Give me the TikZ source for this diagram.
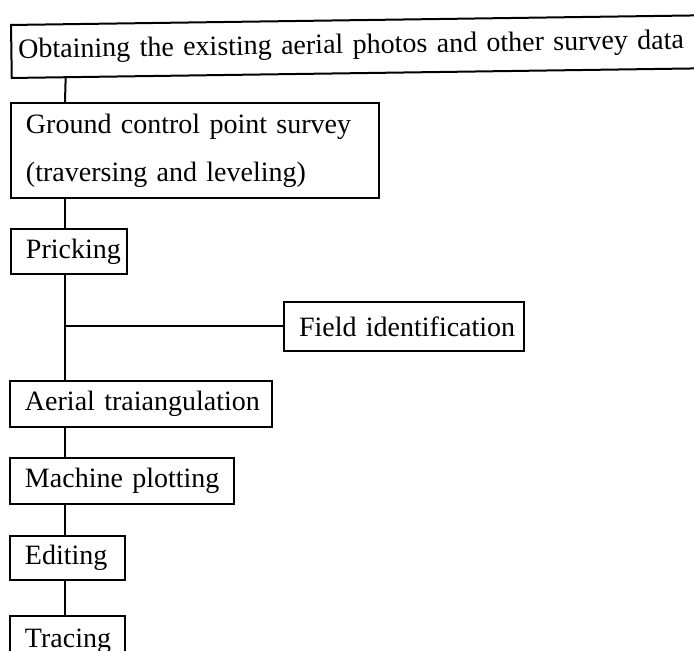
\documentclass[tikz,border=0pt]{standalone}
\usepackage{fontspec}
\setmainfont{Liberation Serif}
\usepackage{tikz}
\usetikzlibrary{calc}

\tikzset{
  indent/.style={execute at begin node={\raggedright\leftskip=#1\relax}},
  stepbox/.style={draw, line width=1pt, anchor=north west,
    inner xsep=2pt, inner ysep=0pt, indent=5.5pt,
    font=\fontsize{14pt}{24pt}\selectfont},
  link/.style={line width=1pt}
}

\begin{document}
\begin{tikzpicture}[x=0.5pt,y=-0.5pt]
    \useasboundingbox (0,0) rectangle (694,651);
    %
    \node[stepbox, rotate=0.8, indent=1.5pt, text width=356pt,
      minimum height=26.5pt] (obtain) at (10,24)
      {Obtaining the existing aerial photos and other survey data};
    \node[stepbox, text width=180pt, minimum height=47.5pt] (ground) at (10,102)
      {Ground control point survey\\(traversing and leveling)};
    \node[stepbox, text width=54pt, minimum height=22.5pt] (pricking) at (10,228)
      {Pricking};
    \node[stepbox, text width=116pt, minimum height=24.5pt] (field) at (283,301)
      {Field identification};
    \node[stepbox, text width=127pt, minimum height=23pt] (aerial) at (9,380)
      {Aerial traiangulation};
    \node[stepbox, text width=108pt, minimum height=23pt] (machine) at (9,457)
      {Machine plotting};
    \node[stepbox, text width=53.5pt, minimum height=22pt] (editing) at (9,535)
      {Editing};
    \node[stepbox, text width=53.5pt, minimum height=25pt] (tracing) at (9,615)
      {Tracing};
    %
    \coordinate (spine) at (65,0);
    \draw[link] ($(obtain.south west)!0.076!(obtain.south east)$)
      -- (ground.north -| spine);
    \foreach \a/\b in {ground/pricking, pricking/aerial, aerial/machine,
      machine/editing, editing/tracing}
      \draw[link] (\a.south -| spine) -- (\b.north -| spine);
    \draw[link] (field.west) -- (field.west -| spine);
\end{tikzpicture}
\end{document}
